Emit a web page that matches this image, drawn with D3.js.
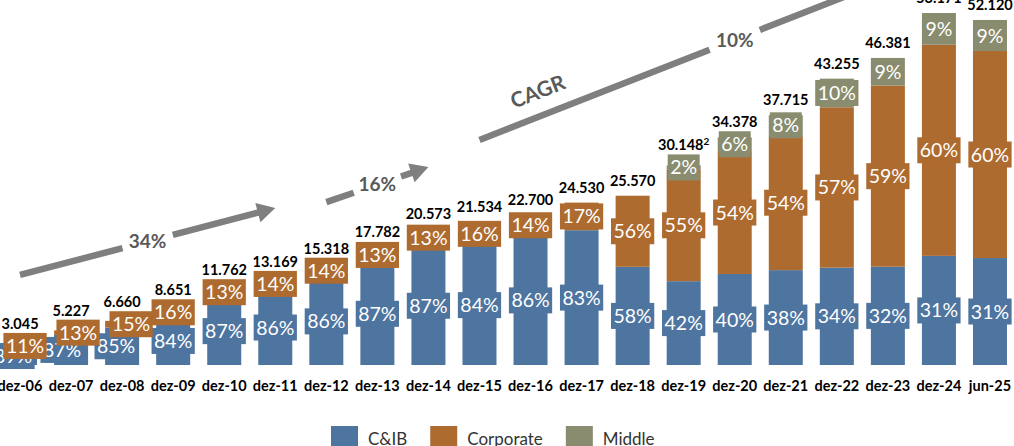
<!DOCTYPE html>
<html>
<meta charset="utf-8">
<head>
  <script src="https://d3js.org/d3.v7.min.js"></script>
  <style>
    body { margin: 0; background: #fff; }
    text { font-family: Lato, "Open Sans", sans-serif; }
  </style>
</head>
<body>
<svg id="chart" width="1014" height="446"></svg>
<script>
// data
var categories = ["dez-06", "dez-07", "dez-08", "dez-09", "dez-10", "dez-11", "dez-12", "dez-13", "dez-14", "dez-15",
                  "dez-16", "dez-17", "dez-18", "dez-19", "dez-20", "dez-21", "dez-22", "dez-23", "dez-24", "jun-25"];
var totals = [3045, 5227, 6660, 8651, 11762, 13169, 15318, 17782, 20573, 21534,
              22700, 24530, 25570, 30148, 34378, 37715, 43255, 46381, 53171, 52120];
var cibPct = [89, 87, 85, 84, 87, 86, 86, 87, 87, 84, 86, 83, 58, 42, 40, 38, 34, 32, 31, 31];
var corporatePct = [11, 13, 15, 16, 13, 14, 14, 13, 13, 16, 14, 17, 56, 55, 54, 54, 57, 59, 60, 60];
var middlePct = [0, 0, 0, 0, 0, 0, 0, 0, 0, 0, 0, 0, 0, 2, 6, 8, 10, 9, 9, 9];
var footnotes = {"dez-19": "2"};
var seriesNames = ["C&IB", "Corporate", "Middle"];

// CAGR arrows (start/end category and value)
var cagrLabels = ["34%", "16%", "10%"];
var cagrFrom = ["dez-06", "dez-12", "dez-15"];
var cagrTo = ["dez-11", "dez-14", "dez-23"];
var cagrFromValue = [13600, 24600, 34000];
var cagrToValue = [23700, 29900, 58200];

var colors = {"C&IB": "#4e74a0", "Corporate": "#ae6b2f", "Middle": "#898c6e"};
var keys = ["cib", "corp", "mid"];
var keyName = {cib: "C&IB", corp: "Corporate", mid: "Middle"};

// labels in the first years were moved sideways by hand in the original
var labelNudge = {"dez-06": {cib: -7, corp: 5}, "dez-07": {cib: -9, corp: 7}, "dez-08": {cib: -6, corp: 9}};

var svg = d3.select("#chart");
var baseY = 365;

var x = d3.scaleBand().domain(categories).range([-5.5, 1015.5]).paddingInner(0.334).paddingOuter(0.167);
var y = d3.scaleLinear().domain([0, 60000]).range([baseY, baseY - 397.2]);

var rows = categories.map(function(c, i) {
  var t = totals[i];
  return {cat: c, total: t,
          cib: t * cibPct[i] / 100,
          corp: t * (100 - cibPct[i] - middlePct[i]) / 100,
          mid: t * middlePct[i] / 100,
          pct: {cib: cibPct[i], corp: corporatePct[i], mid: middlePct[i]}};
});

var series = d3.stack().keys(keys)(rows);

// CAGR arrows, drawn behind everything
var arrowG = svg.append("g");
var labelT = [0.5, 0.5, 0.625];
var gapHalf = [26, 25, 27];
cagrLabels.forEach(function(lab, i) {
  var x0 = x(cagrFrom[i]) + x.bandwidth() / 2, y0 = y(cagrFromValue[i]);
  var x1 = x(cagrTo[i]) + x.bandwidth() / 2, y1 = y(cagrToValue[i]);
  var len = Math.hypot(x1 - x0, y1 - y0);
  var ux = (x1 - x0) / len, uy = (y1 - y0) / len;
  var headLen = 18, headHalf = 10;
  var tm = labelT[i] * len;
  var pts = function(d) { return [x0 + ux * d, y0 + uy * d]; };
  var a = pts(tm - gapHalf[i]), b = pts(tm + gapHalf[i]), e = pts(len - headLen);
  arrowG.append("line").attr("x1", x0).attr("y1", y0).attr("x2", a[0]).attr("y2", a[1])
    .attr("stroke", "#7f7f7f").attr("stroke-width", 6.5);
  arrowG.append("line").attr("x1", b[0]).attr("y1", b[1]).attr("x2", e[0] + ux).attr("y2", e[1] + uy)
    .attr("stroke", "#7f7f7f").attr("stroke-width", 6.5);
  arrowG.append("path")
    .attr("d", "M" + x1 + "," + y1 +
               "L" + (e[0] - uy * headHalf) + "," + (e[1] + ux * headHalf) +
               "L" + (e[0] + uy * headHalf) + "," + (e[1] - ux * headHalf) + "Z")
    .attr("fill", "#7f7f7f");
  var m = pts(tm);
  arrowG.append("text").attr("x", m[0]).attr("y", m[1]).attr("dy", "0.36em")
    .attr("text-anchor", "middle").attr("fill", "#595959")
    .style("font-size", "19px").style("font-weight", "bold").text(lab);
  if (i == 2) {
    var c = pts(0.164 * len);
    var ang = Math.atan2(uy, ux) * 180 / Math.PI;
    arrowG.append("text")
      .attr("transform", "translate(" + (c[0] + uy * 24) + "," + (c[1] - ux * 24) + ") rotate(" + ang + ")")
      .attr("dy", "0.36em").attr("text-anchor", "middle").attr("fill", "#595959")
      .style("font-size", "21px").style("font-weight", "bold").text("CAGR");
  }
});

// bars
svg.append("g").selectAll("g")
  .data(series)
  .join("g")
    .attr("fill", function(s) { return colors[keyName[s.key]]; })
  .selectAll("rect")
  .data(function(s) { return s; })
  .join("rect")
    .attr("x", function(d) { return x(d.data.cat); })
    .attr("width", x.bandwidth())
    .attr("y", function(d) { return y(d[1]); })
    .attr("height", function(d) { return y(d[0]) - y(d[1]); });

// segment labels (boxes in series colour)
var boxH = 26;
var topBox = {};
var labelG = svg.append("g");
series.forEach(function(s) {
  s.forEach(function(d) {
    var p = d.data.pct[s.key];
    if (!p) return;
    var cy = (y(d[0]) + y(d[1])) / 2;
    var nudge = labelNudge[d.data.cat] ? (labelNudge[d.data.cat][s.key] || 0) : 0;
    var cx = x(d.data.cat) + x.bandwidth() / 2 + nudge;
    var g = labelG.append("g").attr("transform", "translate(" + cx + "," + cy + ")");
    var t = g.append("text").attr("text-anchor", "middle").attr("dy", "0.36em")
      .attr("fill", "#fff").style("font-size", "19.5px").text(p + "%");
    var w = t.node().getComputedTextLength() + 5;
    g.insert("rect", "text").attr("x", -w / 2).attr("y", -boxH / 2)
      .attr("width", w).attr("height", boxH).attr("fill", colors[keyName[s.key]]);
    var top = cy - boxH / 2;
    topBox[d.data.cat] = Math.min(topBox[d.data.cat] === undefined ? 1e9 : topBox[d.data.cat], top);
  });
});

// totals
var totalFmt = function(v) { return d3.format(",")(v).replace(/,/g, "."); };
rows.forEach(function(r) {
  var by = Math.min(y(r.total) - 10, topBox[r.cat] - 4);
  var t = svg.append("text")
    .attr("x", x(r.cat) + x.bandwidth() / 2).attr("y", by)
    .attr("text-anchor", "middle").attr("fill", "#000")
    .style("font-size", "14.5px").style("font-weight", "bold")
    .text(totalFmt(r.total));
  if (footnotes[r.cat]) {
    t.append("tspan").attr("dy", -5).style("font-size", "10px").text(footnotes[r.cat]);
  }
});

// x axis
var xAxis = svg.append("g")
  .attr("transform", "translate(0," + baseY + ")")
  .call(d3.axisBottom(x).tickSize(0).tickPadding(16));
xAxis.select(".domain").remove();
xAxis.selectAll("text")
  .attr("fill", "#000")
  .style("font-family", "Lato, sans-serif")
  .style("font-size", "14.5px").style("font-weight", "bold");

// legend
var legend = svg.append("g");
var lx = 331;
seriesNames.forEach(function(n) {
  legend.append("rect").attr("x", lx).attr("y", 426).attr("width", 27).attr("height", 27)
    .attr("fill", colors[n]);
  var t = legend.append("text").attr("x", lx + 37).attr("y", 445)
    .attr("fill", "#333").style("font-size", "17px").text(n);
  lx += 37 + t.node().getComputedTextLength() + 23;
});
</script>
</body>
</html>
